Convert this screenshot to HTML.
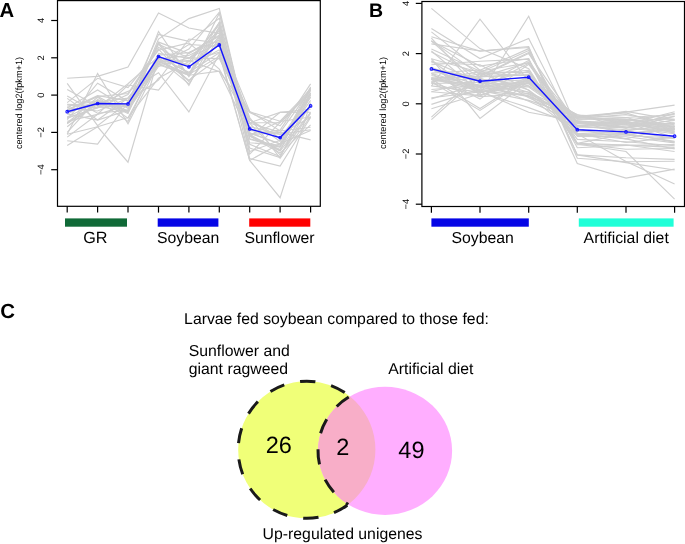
<!DOCTYPE html>
<html><head><meta charset="utf-8"><style>
html,body{margin:0;padding:0;background:#fff;width:685px;height:544px;overflow:hidden}
svg{display:block;will-change:transform}
text{font-family:"Liberation Sans",sans-serif;fill:#000;text-rendering:geometricPrecision}
</style></head><body>
<svg width="685" height="544" viewBox="0 0 685 544">
<g fill="none" stroke="#cfcfcf" stroke-width="1.15">
<polyline points="67.2,98.4 97.6,120.0 128.0,98.0 158.5,64.8 188.9,75.1 219.3,22.3 249.7,133.0 280.1,144.0 310.6,100.3"/>
<polyline points="67.2,107.9 97.6,90.0 128.0,108.5 158.5,44.3 188.9,57.9 219.3,42.7 249.7,144.3 280.1,156.5 310.6,103.8"/>
<polyline points="67.2,110.0 97.6,96.5 128.0,112.6 158.5,53.4 188.9,58.4 219.3,30.5 249.7,130.4 280.1,134.3 310.6,129.7"/>
<polyline points="67.2,137.1 97.6,114.2 128.0,85.0 158.5,90.1 188.9,52.4 219.3,40.3 249.7,122.8 280.1,122.6 310.6,91.3"/>
<polyline points="67.2,110.8 97.6,104.4 128.0,104.4 158.5,55.1 188.9,52.7 219.3,36.2 249.7,117.5 280.1,158.4 310.6,116.5"/>
<polyline points="67.2,134.2 97.6,73.4 128.0,123.7 158.5,63.8 188.9,75.3 219.3,27.0 249.7,136.9 280.1,112.4 310.6,109.3"/>
<polyline points="67.2,123.0 97.6,97.3 128.0,118.1 158.5,60.9 188.9,64.3 219.3,22.7 249.7,154.2 280.1,122.3 310.6,93.2"/>
<polyline points="67.2,104.7 97.6,107.6 128.0,83.8 158.5,56.6 188.9,72.3 219.3,52.8 249.7,126.6 280.1,134.2 310.6,117.2"/>
<polyline points="67.2,140.8 97.6,144.1 128.0,102.3 158.5,34.4 188.9,41.4 219.3,18.2 249.7,138.7 280.1,146.5 310.6,89.4"/>
<polyline points="67.2,119.7 97.6,83.2 128.0,101.2 158.5,80.0 188.9,39.0 219.3,43.1 249.7,135.7 280.1,149.6 310.6,104.5"/>
<polyline points="67.2,121.2 97.6,114.4 128.0,104.7 158.5,42.8 188.9,75.2 219.3,71.1 249.7,112.6 280.1,125.9 310.6,88.1"/>
<polyline points="67.2,118.3 97.6,107.2 128.0,106.4 158.5,64.0 188.9,49.0 219.3,12.2 249.7,135.7 280.1,151.0 310.6,112.3"/>
<polyline points="67.2,109.7 97.6,95.7 128.0,100.6 158.5,58.9 188.9,84.0 219.3,37.5 249.7,111.4 280.1,131.0 310.6,127.2"/>
<polyline points="67.2,96.0 97.6,113.2 128.0,110.1 158.5,66.4 188.9,57.9 219.3,58.6 249.7,119.5 280.1,141.5 310.6,92.9"/>
<polyline points="67.2,113.9 97.6,120.1 128.0,110.3 158.5,59.0 188.9,55.4 219.3,39.8 249.7,134.9 280.1,132.4 310.6,89.9"/>
<polyline points="67.2,117.7 97.6,108.0 128.0,94.5 158.5,49.2 188.9,81.5 219.3,41.3 249.7,132.7 280.1,143.9 310.6,87.1"/>
<polyline points="67.2,123.8 97.6,102.4 128.0,98.1 158.5,58.0 188.9,61.7 219.3,24.8 249.7,151.6 280.1,140.3 310.6,95.2"/>
<polyline points="67.2,132.4 97.6,99.4 128.0,113.4 158.5,42.1 188.9,53.5 219.3,35.2 249.7,139.3 280.1,147.3 310.6,93.3"/>
<polyline points="67.2,106.3 97.6,100.9 128.0,110.5 158.5,31.4 188.9,76.6 219.3,30.1 249.7,148.1 280.1,157.5 310.6,94.4"/>
<polyline points="67.2,113.8 97.6,100.4 128.0,121.5 158.5,56.2 188.9,73.3 219.3,36.1 249.7,119.6 280.1,138.1 310.6,97.0"/>
<polyline points="67.2,116.9 97.6,102.1 128.0,106.9 158.5,43.6 188.9,85.4 219.3,27.4 249.7,135.0 280.1,121.5 310.6,117.0"/>
<polyline points="67.2,110.4 97.6,96.5 128.0,93.5 158.5,47.3 188.9,66.8 219.3,49.8 249.7,123.3 280.1,154.9 310.6,113.4"/>
<polyline points="67.2,83.3 97.6,125.7 128.0,102.4 158.5,64.4 188.9,60.4 219.3,71.8 249.7,134.1 280.1,130.1 310.6,83.9"/>
<polyline points="67.2,126.7 97.6,102.2 128.0,104.6 158.5,61.2 188.9,74.7 219.3,13.2 249.7,134.7 280.1,150.5 310.6,88.0"/>
<polyline points="67.2,104.2 97.6,105.6 128.0,106.7 158.5,61.3 188.9,74.4 219.3,56.3 249.7,122.7 280.1,112.4 310.6,112.2"/>
<polyline points="67.2,107.7 97.6,111.0 128.0,98.3 158.5,62.9 188.9,44.5 219.3,46.4 249.7,142.8 280.1,145.1 310.6,97.3"/>
<polyline points="67.2,78.3 97.6,76.4 128.0,67.1 158.5,13.0 188.9,28.0 219.3,33.6 249.7,158.5 280.1,166.0 310.6,117.5"/>
<polyline points="67.2,145.5 97.6,126.8 128.0,162.2 158.5,57.8 188.9,80.2 219.3,57.8 249.7,111.9 280.1,121.2 310.6,89.5"/>
<polyline points="67.2,89.5 97.6,106.3 128.0,111.9 158.5,39.1 188.9,18.6 219.3,8.4 249.7,136.1 280.1,152.9 310.6,124.9"/>
<polyline points="67.2,123.1 97.6,104.4 128.0,91.4 158.5,72.7 188.9,111.9 219.3,54.1 249.7,160.4 280.1,197.7 310.6,102.6"/>
<polyline points="67.2,102.6 97.6,78.3 128.0,87.6 158.5,50.3 188.9,42.9 219.3,69.0 249.7,123.1 280.1,132.4 310.6,139.9"/>
<polyline points="67.2,134.3 97.6,126.8 128.0,117.5 158.5,78.3 188.9,61.5 219.3,52.2 249.7,160.4 280.1,143.6 310.6,130.5"/>
<polyline points="431.4,73.7 480.0,99.1 528.7,64.3 577.3,127.2 626.0,127.3 674.6,131.2"/>
<polyline points="431.4,60.7 480.0,94.8 528.7,83.3 577.3,126.0 626.0,129.7 674.6,128.3"/>
<polyline points="431.4,78.1 480.0,86.6 528.7,80.9 577.3,122.9 626.0,121.1 674.6,133.2"/>
<polyline points="431.4,83.0 480.0,96.6 528.7,93.7 577.3,118.1 626.0,111.4 674.6,119.9"/>
<polyline points="431.4,82.0 480.0,73.8 528.7,90.0 577.3,126.0 626.0,121.8 674.6,129.2"/>
<polyline points="431.4,62.7 480.0,64.8 528.7,90.3 577.3,135.7 626.0,130.7 674.6,138.6"/>
<polyline points="431.4,79.5 480.0,87.7 528.7,81.4 577.3,122.5 626.0,124.9 674.6,126.8"/>
<polyline points="431.4,78.1 480.0,76.9 528.7,74.6 577.3,131.5 626.0,133.2 674.6,128.5"/>
<polyline points="431.4,41.1 480.0,83.6 528.7,71.2 577.3,139.4 626.0,141.7 674.6,145.8"/>
<polyline points="431.4,79.3 480.0,71.9 528.7,72.6 577.3,135.6 626.0,134.5 674.6,128.9"/>
<polyline points="431.4,82.0 480.0,110.4 528.7,79.2 577.3,117.1 626.0,120.3 674.6,113.9"/>
<polyline points="431.4,52.1 480.0,76.5 528.7,75.1 577.3,143.3 626.0,133.7 674.6,142.1"/>
<polyline points="431.4,98.9 480.0,83.7 528.7,83.9 577.3,118.4 626.0,114.7 674.6,123.2"/>
<polyline points="431.4,83.5 480.0,82.4 528.7,79.8 577.3,116.6 626.0,122.9 674.6,137.5"/>
<polyline points="431.4,51.0 480.0,92.1 528.7,107.6 577.3,125.6 626.0,126.0 674.6,120.5"/>
<polyline points="431.4,78.2 480.0,76.1 528.7,52.4 577.3,136.4 626.0,136.7 674.6,142.9"/>
<polyline points="431.4,49.0 480.0,71.2 528.7,62.8 577.3,143.4 626.0,145.0 674.6,151.5"/>
<polyline points="431.4,68.0 480.0,80.4 528.7,94.2 577.3,125.9 626.0,122.7 674.6,131.6"/>
<polyline points="431.4,43.9 480.0,51.0 528.7,46.5 577.3,158.3 626.0,161.7 674.6,161.3"/>
<polyline points="431.4,117.1 480.0,73.1 528.7,75.6 577.3,117.1 626.0,120.8 674.6,119.0"/>
<polyline points="431.4,91.7 480.0,79.0 528.7,85.8 577.3,119.2 626.0,117.5 674.6,129.6"/>
<polyline points="431.4,77.8 480.0,89.8 528.7,83.2 577.3,121.9 626.0,127.2 674.6,122.9"/>
<polyline points="431.4,69.6 480.0,85.8 528.7,60.6 577.3,133.3 626.0,135.2 674.6,138.3"/>
<polyline points="431.4,73.1 480.0,70.0 528.7,97.7 577.3,120.9 626.0,127.4 674.6,133.7"/>
<polyline points="431.4,91.7 480.0,95.9 528.7,77.5 577.3,117.0 626.0,112.9 674.6,127.9"/>
<polyline points="431.4,38.1 480.0,90.9 528.7,95.8 577.3,134.7 626.0,133.2 674.6,130.2"/>
<polyline points="431.4,64.7 480.0,61.2 528.7,59.1 577.3,147.7 626.0,145.4 674.6,144.6"/>
<polyline points="431.4,75.5 480.0,86.0 528.7,87.0 577.3,120.9 626.0,124.0 674.6,129.4"/>
<polyline points="431.4,79.3 480.0,85.8 528.7,96.0 577.3,117.2 626.0,119.0 674.6,125.5"/>
<polyline points="431.4,97.7 480.0,91.9 528.7,86.0 577.3,115.1 626.0,117.5 674.6,114.7"/>
<polyline points="431.4,69.3 480.0,90.4 528.7,100.4 577.3,116.9 626.0,122.2 674.6,123.7"/>
<polyline points="431.4,40.6 480.0,74.7 528.7,70.3 577.3,144.7 626.0,145.1 674.6,147.4"/>
<polyline points="431.4,66.9 480.0,92.7 528.7,82.2 577.3,125.7 626.0,131.0 674.6,124.3"/>
<polyline points="431.4,31.9 480.0,70.3 528.7,48.6 577.3,154.9 626.0,157.7 674.6,159.4"/>
<polyline points="431.4,104.4 480.0,88.9 528.7,63.3 577.3,122.0 626.0,127.8 674.6,116.4"/>
<polyline points="431.4,73.5 480.0,87.2 528.7,96.6 577.3,116.7 626.0,122.0 674.6,126.7"/>
<polyline points="431.4,89.5 480.0,85.4 528.7,92.2 577.3,114.6 626.0,127.8 674.6,113.4"/>
<polyline points="431.4,58.8 480.0,72.5 528.7,50.5 577.3,143.4 626.0,149.2 674.6,148.5"/>
<polyline points="431.4,36.7 480.0,51.1 528.7,47.5 577.3,154.9 626.0,162.6 674.6,170.0"/>
<polyline points="431.4,79.3 480.0,108.6 528.7,77.6 577.3,121.3 626.0,124.1 674.6,111.8"/>
<polyline points="431.4,69.7 480.0,77.3 528.7,62.5 577.3,133.7 626.0,142.5 674.6,137.1"/>
<polyline points="431.4,85.9 480.0,92.1 528.7,79.7 577.3,119.1 626.0,119.5 674.6,126.5"/>
<polyline points="431.4,81.2 480.0,78.3 528.7,92.3 577.3,123.1 626.0,128.2 674.6,119.7"/>
<polyline points="431.4,61.4 480.0,81.7 528.7,101.2 577.3,122.9 626.0,122.7 674.6,132.9"/>
<polyline points="431.4,8.4 480.0,48.6 528.7,68.7 577.3,144.0 626.0,151.5 674.6,199.2"/>
<polyline points="431.4,86.2 480.0,19.2 528.7,81.2 577.3,133.9 626.0,138.9 674.6,149.0"/>
<polyline points="431.4,108.8 480.0,93.8 528.7,16.2 577.3,128.9 626.0,138.9 674.6,126.4"/>
<polyline points="431.4,119.6 480.0,76.2 528.7,53.6 577.3,123.9 626.0,123.9 674.6,116.3"/>
<polyline points="431.4,58.6 480.0,118.4 528.7,81.2 577.3,116.3 626.0,112.1 674.6,105.1"/>
<polyline points="431.4,41.0 480.0,66.1 528.7,58.6 577.3,163.5 626.0,178.1 674.6,169.1"/>
<polyline points="431.4,78.7 480.0,91.2 528.7,112.3 577.3,121.4 626.0,133.9 674.6,141.4"/>
<polyline points="431.4,28.5 480.0,58.6 528.7,38.5 577.3,133.9 626.0,161.5 674.6,184.1"/>
</g>
<g fill="none" stroke="#1414ff" stroke-width="1.4">
<polyline points="67.2,111.7 97.6,103.5 128.0,103.9 158.5,56.5 188.9,66.8 219.3,44.9 249.7,128.9 280.1,137.6 310.6,105.9"/>
<polyline points="431.4,68.9 480.0,81.2 528.7,77.2 577.3,129.7 626.0,131.9 674.6,136.2"/>
<circle cx="67.2" cy="111.7" r="1.3" fill="none" stroke-width="1.1"/>
<circle cx="97.6" cy="103.5" r="1.3" fill="none" stroke-width="1.1"/>
<circle cx="128.0" cy="103.9" r="1.3" fill="none" stroke-width="1.1"/>
<circle cx="158.5" cy="56.5" r="1.3" fill="none" stroke-width="1.1"/>
<circle cx="188.9" cy="66.8" r="1.3" fill="none" stroke-width="1.1"/>
<circle cx="219.3" cy="44.9" r="1.3" fill="none" stroke-width="1.1"/>
<circle cx="249.7" cy="128.9" r="1.3" fill="none" stroke-width="1.1"/>
<circle cx="280.1" cy="137.6" r="1.3" fill="none" stroke-width="1.1"/>
<circle cx="310.6" cy="105.9" r="1.3" fill="none" stroke-width="1.1"/>
<circle cx="431.4" cy="68.9" r="1.3" fill="none" stroke-width="1.1"/>
<circle cx="480.0" cy="81.2" r="1.3" fill="none" stroke-width="1.1"/>
<circle cx="528.7" cy="77.2" r="1.3" fill="none" stroke-width="1.1"/>
<circle cx="577.3" cy="129.7" r="1.3" fill="none" stroke-width="1.1"/>
<circle cx="626.0" cy="131.9" r="1.3" fill="none" stroke-width="1.1"/>
<circle cx="674.6" cy="136.2" r="1.3" fill="none" stroke-width="1.1"/>
</g>
<rect x="57.5" y="0.6" width="262.8" height="205.7" fill="none" stroke="#000" stroke-width="1.2"/>
<line x1="51.2" y1="20.5" x2="57.5" y2="20.5" stroke="#000" stroke-width="1.2"/>
<text transform="translate(44.2,20.5) rotate(-90) scale(1,1.0)" font-size="9.3" text-anchor="middle">4</text>
<line x1="51.2" y1="57.8" x2="57.5" y2="57.8" stroke="#000" stroke-width="1.2"/>
<text transform="translate(44.2,57.8) rotate(-90) scale(1,1.0)" font-size="9.3" text-anchor="middle">2</text>
<line x1="51.2" y1="95.1" x2="57.5" y2="95.1" stroke="#000" stroke-width="1.2"/>
<text transform="translate(44.2,95.1) rotate(-90) scale(1,1.0)" font-size="9.3" text-anchor="middle">0</text>
<line x1="51.2" y1="132.4" x2="57.5" y2="132.4" stroke="#000" stroke-width="1.2"/>
<text transform="translate(44.2,132.4) rotate(-90) scale(1,1.0)" font-size="9.3" text-anchor="middle">−2</text>
<line x1="51.2" y1="169.7" x2="57.5" y2="169.7" stroke="#000" stroke-width="1.2"/>
<text transform="translate(44.2,169.7) rotate(-90) scale(1,1.0)" font-size="9.3" text-anchor="middle">−4</text>
<text transform="translate(21.6,103.0) rotate(-90) scale(1,1.0)" font-size="9.2" text-anchor="middle">centered log2(fpkm+1)</text>
<line x1="67.2" y1="206.3" x2="67.2" y2="212.6" stroke="#000" stroke-width="1.2"/>
<line x1="97.6" y1="206.3" x2="97.6" y2="212.6" stroke="#000" stroke-width="1.2"/>
<line x1="128.0" y1="206.3" x2="128.0" y2="212.6" stroke="#000" stroke-width="1.2"/>
<line x1="158.5" y1="206.3" x2="158.5" y2="212.6" stroke="#000" stroke-width="1.2"/>
<line x1="188.9" y1="206.3" x2="188.9" y2="212.6" stroke="#000" stroke-width="1.2"/>
<line x1="219.3" y1="206.3" x2="219.3" y2="212.6" stroke="#000" stroke-width="1.2"/>
<line x1="249.7" y1="206.3" x2="249.7" y2="212.6" stroke="#000" stroke-width="1.2"/>
<line x1="280.1" y1="206.3" x2="280.1" y2="212.6" stroke="#000" stroke-width="1.2"/>
<line x1="310.6" y1="206.3" x2="310.6" y2="212.6" stroke="#000" stroke-width="1.2"/>
<rect x="65" y="218.4" width="62" height="8.3" fill="#106a37"/>
<rect x="157.7" y="218.4" width="60.7" height="8.3" fill="#0505e6"/>
<rect x="249.2" y="218.4" width="61.1" height="8.3" fill="#ff0000"/>
<text transform="translate(95.4,242.5) scale(1.0,1)" font-size="16.2" text-anchor="middle" font-weight="normal">GR</text>
<text transform="translate(188.2,242.6) scale(1.0,1)" font-size="15.8" text-anchor="middle" font-weight="normal">Soybean</text>
<text transform="translate(279.5,242.6) scale(1.0,1)" font-size="15.8" text-anchor="middle" font-weight="normal">Sunflower</text>
<text transform="translate(-0.5,17.1) scale(1.0,1)" font-size="20.3" text-anchor="start" font-weight="bold">A</text>
<rect x="421.9" y="1.5" width="262.6" height="205.0" fill="none" stroke="#000" stroke-width="1.2"/>
<line x1="415.8" y1="3.4" x2="421.9" y2="3.4" stroke="#000" stroke-width="1.2"/>
<text transform="translate(408.6,3.4) rotate(-90) scale(1,1.0)" font-size="9.3" text-anchor="middle">4</text>
<line x1="415.8" y1="53.6" x2="421.9" y2="53.6" stroke="#000" stroke-width="1.2"/>
<text transform="translate(408.6,53.6) rotate(-90) scale(1,1.0)" font-size="9.3" text-anchor="middle">2</text>
<line x1="415.8" y1="103.8" x2="421.9" y2="103.8" stroke="#000" stroke-width="1.2"/>
<text transform="translate(408.6,103.8) rotate(-90) scale(1,1.0)" font-size="9.3" text-anchor="middle">0</text>
<line x1="415.8" y1="154.0" x2="421.9" y2="154.0" stroke="#000" stroke-width="1.2"/>
<text transform="translate(408.6,154.0) rotate(-90) scale(1,1.0)" font-size="9.3" text-anchor="middle">−2</text>
<line x1="415.8" y1="204.2" x2="421.9" y2="204.2" stroke="#000" stroke-width="1.2"/>
<text transform="translate(408.6,204.2) rotate(-90) scale(1,1.0)" font-size="9.3" text-anchor="middle">−4</text>
<text transform="translate(386.2,103.0) rotate(-90) scale(1,1.0)" font-size="9.2" text-anchor="middle">centered log2(fpkm+1)</text>
<line x1="431.4" y1="206.5" x2="431.4" y2="212.8" stroke="#000" stroke-width="1.2"/>
<line x1="480.0" y1="206.5" x2="480.0" y2="212.8" stroke="#000" stroke-width="1.2"/>
<line x1="528.7" y1="206.5" x2="528.7" y2="212.8" stroke="#000" stroke-width="1.2"/>
<line x1="577.3" y1="206.5" x2="577.3" y2="212.8" stroke="#000" stroke-width="1.2"/>
<line x1="626.0" y1="206.5" x2="626.0" y2="212.8" stroke="#000" stroke-width="1.2"/>
<line x1="674.6" y1="206.5" x2="674.6" y2="212.8" stroke="#000" stroke-width="1.2"/>
<rect x="431.4" y="218.4" width="97.4" height="8.3" fill="#0505e6"/>
<rect x="578.8" y="218.4" width="94.8" height="8.3" fill="#20ffd8"/>
<text transform="translate(482.7,242.6) scale(1.0,1)" font-size="15.8" text-anchor="middle" font-weight="normal">Soybean</text>
<text transform="translate(626.2,242.6) scale(1.0,1)" font-size="15.8" text-anchor="middle" font-weight="normal">Artificial diet</text>
<text transform="translate(369.0,17) scale(1.0,1)" font-size="19.5" text-anchor="start" font-weight="bold">B</text>
<text transform="translate(0.2,318.2) scale(1.0,1)" font-size="20.4" text-anchor="start" font-weight="bold">C</text>
<text transform="translate(184.1,323.55) scale(1.0,1)" font-size="15.8" text-anchor="start" font-weight="normal">Larvae fed soybean compared to those fed:</text>
<text transform="translate(188.75,355.5) scale(1.0,1)" font-size="15.8" text-anchor="start" font-weight="normal">Sunflower and</text>
<text transform="translate(188.75,373.9) scale(1.0,1)" font-size="15.8" text-anchor="start" font-weight="normal">giant ragweed</text>
<text transform="translate(388.2,374.0) scale(1.0,1)" font-size="15.8" text-anchor="start" font-weight="normal">Artificial diet</text>
<text transform="translate(262.6,538.5) scale(1.0,1)" font-size="15.8" text-anchor="start" font-weight="normal">Up-regulated unigenes</text>
<defs><clipPath id="yc"><circle cx="306.8" cy="449.75" r="68.6"/></clipPath></defs>
<circle cx="306.8" cy="449.75" r="68.6" fill="#f0ff78"/>
<ellipse cx="385.05" cy="450.85" rx="67.05" ry="64.05" fill="#ffaeff"/>
<ellipse cx="385.05" cy="450.85" rx="67.05" ry="64.05" fill="#f8aec8" clip-path="url(#yc)"/>
<path d="M349.85,396.33 A68.6,68.6 0 1 0 348.26,504.40" fill="none" stroke="#1a1a1a" stroke-width="3" stroke-dasharray="15.3 16.15" stroke-dashoffset="25.0"/>
<path d="M348.26,504.40 A67.05,64.05 0 0 1 349.85,396.33" fill="none" stroke="#1a1a1a" stroke-width="3" stroke-dasharray="15.3 16.15" stroke-dashoffset="12.45"/>
<text transform="translate(278.8,452.6) scale(1.0,1)" font-size="23.5" text-anchor="middle" font-weight="normal">26</text>
<text transform="translate(342.8,454.5) scale(1.0,1)" font-size="23.5" text-anchor="middle" font-weight="normal">2</text>
<text transform="translate(411.4,457.8) scale(1.0,1)" font-size="23.5" text-anchor="middle" font-weight="normal">49</text>
</svg>
</body></html>
